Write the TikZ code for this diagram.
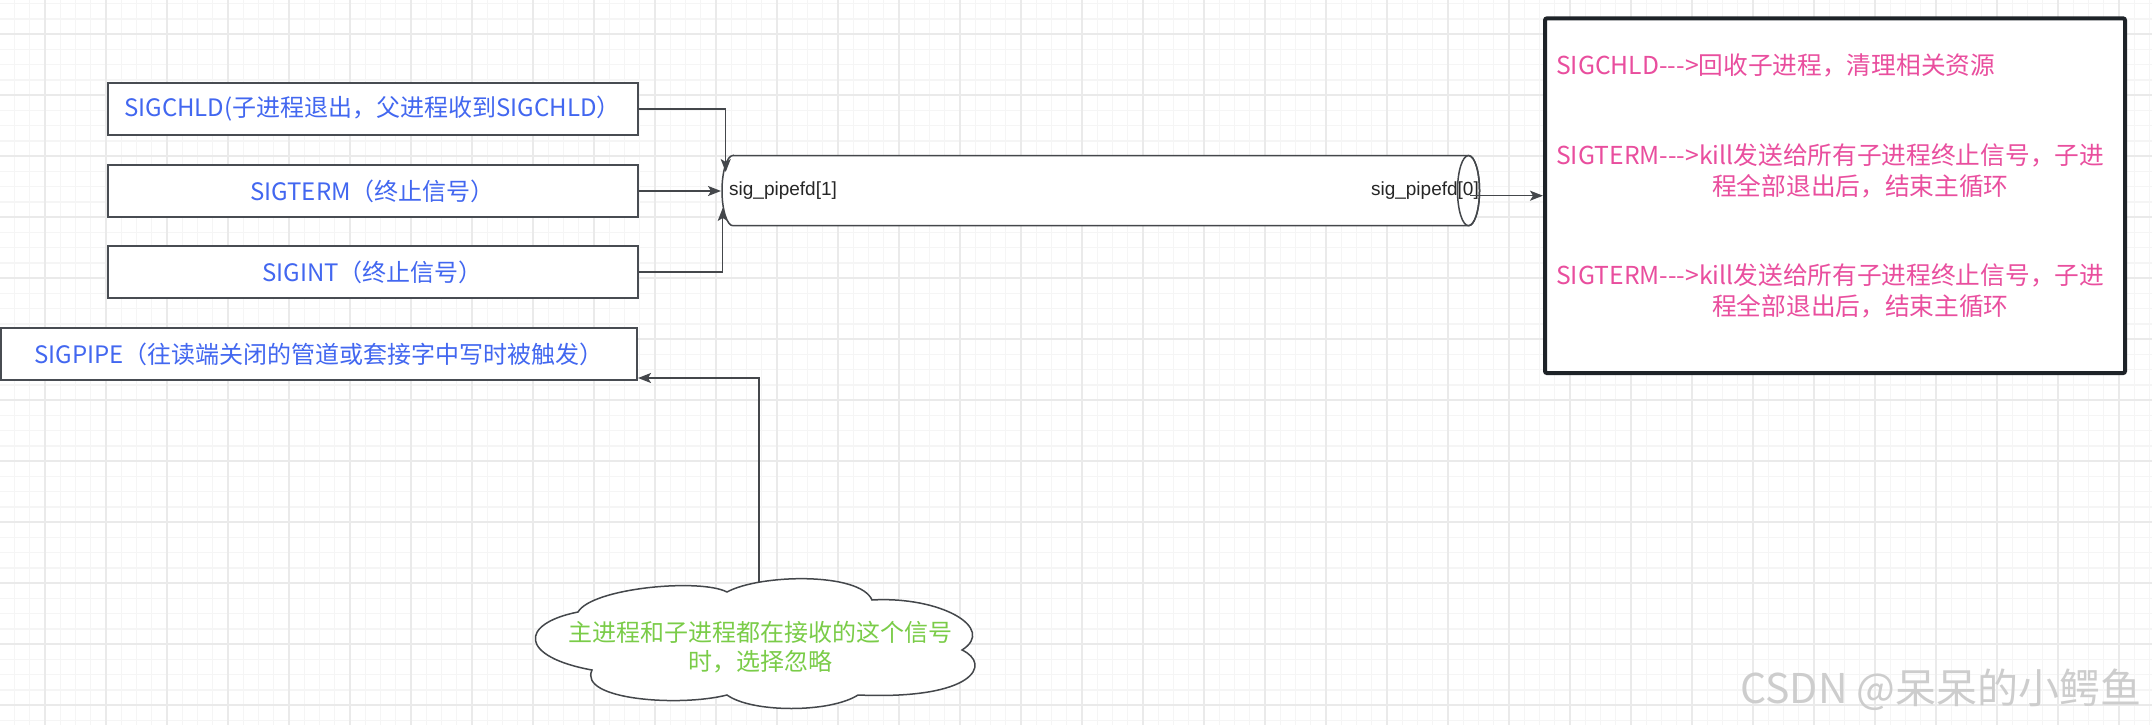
\documentclass[tikz,border=0pt]{standalone}
\usepackage{fontspec}
\setmainfont{Noto Sans CJK SC}[Ligatures=TeXOff]
\newfontfamily\arialfont{Liberation Sans}
\usetikzlibrary{arrows.meta}
\definecolor{sigblue}{RGB}{66,103,240}
\definecolor{sigpink}{RGB}{233,78,158}
\definecolor{siggreen}{RGB}{122,204,72}
\definecolor{edgegray}{RGB}{68,71,75}
\definecolor{boxgray}{RGB}{72,76,82}
\definecolor{darkframe}{RGB}{30,35,40}
\definecolor{gridminor}{RGB}{245,245,245}
\definecolor{gridmajor}{RGB}{234,234,234}
\definecolor{wmgray}{RGB}{205,205,205}
\begin{document}
\begin{tikzpicture}[x=1pt,y=-1pt,
  sigbox/.style={draw=boxgray, line width=2pt, fill=white, minimum height=52pt,
    text=sigblue, font=\fontsize{24pt}{30pt}\selectfont, inner sep=0pt},
  conn/.style={draw=edgegray, line width=1.5pt, -{Stealth[length=13pt,width=10pt,inset=3pt]}},
  minorline/.style={draw=gridminor, line width=1.3pt},
  majorline/.style={draw=gridmajor, line width=1.8pt},
  pinktext/.style={text=sigpink, font=\fontsize{24.7pt}{31pt}\selectfont, inner sep=0pt, align=left, anchor=west},
  pipelabel/.style={font=\arialfont\fontsize{19pt}{22pt}\selectfont, text=black!85, inner sep=0pt}
]
\useasboundingbox (0,0) rectangle (2152,725);
\fill[white] (0,0) rectangle (2152,725);
% grid
\foreach \i in {0,...,141} {\draw[minorline] ({14.5+15.25*\i},0) -- ({14.5+15.25*\i},725);}
\foreach \i in {0,...,47} {\draw[minorline] (0,{3.8+15.25*\i}) -- (2152,{3.8+15.25*\i});}
\foreach \i in {0,...,35} {\draw[majorline] ({45+61*\i},0) -- ({45+61*\i},725);}
\foreach \i in {0,...,11} {\draw[majorline] (0,{34.3+61*\i}) -- (2152,{34.3+61*\i});}

% cloud
\draw[draw=edgegray, line width=1.5pt, fill=white]
  (578,612) .. controls (592,588) and (700,578) .. (727,592)
  .. controls (760,574) and (860,572) .. (872,600)
  .. controls (940,596) and (997,628) .. (962,650)
  .. controls (992,664) and (975,700) .. (858,695)
  .. controls (830,713) and (752,713) .. (727,695)
  .. controls (680,707) and (578,700) .. (592,670)
  .. controls (520,657) and (518,624) .. (578,612) -- cycle;
\node[text=siggreen, font=\fontsize{24pt}{29pt}\selectfont, align=center, inner sep=0pt] (cloud) at (760,647)
  {主进程和子进程都在接收的这个信号\\时，选择忽略};
\coordinate (cloudtop) at (759,583);

% left boxes
\node[sigbox, minimum width=530pt] (b1) at (372.5,109) {SIGCHLD(子进程退出，父进程收到SIGCHLD）};
\node[sigbox, minimum width=530pt] (b2) at (372.5,191) {SIGTERM（终止信号）};
\node[sigbox, minimum width=530pt] (b3) at (372.5,272) {SIGINT（终止信号）};
\node[sigbox, minimum width=636pt] (b4) at (319,354) {SIGPIPE（往读端关闭的管道或套接字中写时被触发）};

% cylinder (pipe)
\draw[draw=edgegray, line width=1.5pt, fill=white]
  (733,155.5) -- (1468.5,155.5) arc[start angle=-90, end angle=90, x radius=11, y radius=35.1]
  -- (733,225.7) arc[start angle=90, end angle=270, x radius=11, y radius=35.1] -- cycle;
\draw[draw=edgegray, line width=1.5pt] (1468.5,190.6) ellipse[x radius=11, y radius=35.1];
\node[pipelabel, anchor=west] (p1) at (729,191) {sig\_pipefd[1]};
\node[pipelabel, anchor=east] (p0) at (1479,191) {sig\_pipefd[0]};
\coordinate (cin1) at (725.7,172);
\coordinate (cin2) at (721,191);
\coordinate (cin3) at (722.7,208);
\coordinate (cout) at (1470,195.7);

% right box
\node[draw=darkframe, line width=4pt, fill=white, rounded corners=2pt,
  minimum width=580pt, minimum height=354.7pt, inner sep=0pt] (rb) at (1835,195.7) {};
\node[pinktext] (t1) at (1556,65) {SIGCHLD--->回收子进程，清理相关资源};
\node[pinktext] (t2) at (1556,171) {SIGTERM--->kill发送给所有子进程终止信号，子进\\\hspace*{156pt}程全部退出后，结束主循环};
\node[pinktext] (t3) at (1556,290.5) {SIGTERM--->kill发送给所有子进程终止信号，子进\\\hspace*{156pt}程全部退出后，结束主循环};

% connectors
\draw[conn] (b1.east) -| (cin1);
\draw[conn] (b2.east) -- (cin2);
\draw[conn] (b3.east) -| (cin3);
\draw[conn] (cout) -- (rb.west);
\draw[conn] (cloudtop) |- (b4.east |- 0,378);

% watermark
\node[text=wmgray, font=\fontsize{41pt}{45pt}\selectfont, inner sep=0pt] (wm) at (1941,690) {CSDN @呆呆的小鳄鱼};
\end{tikzpicture}
\end{document}
